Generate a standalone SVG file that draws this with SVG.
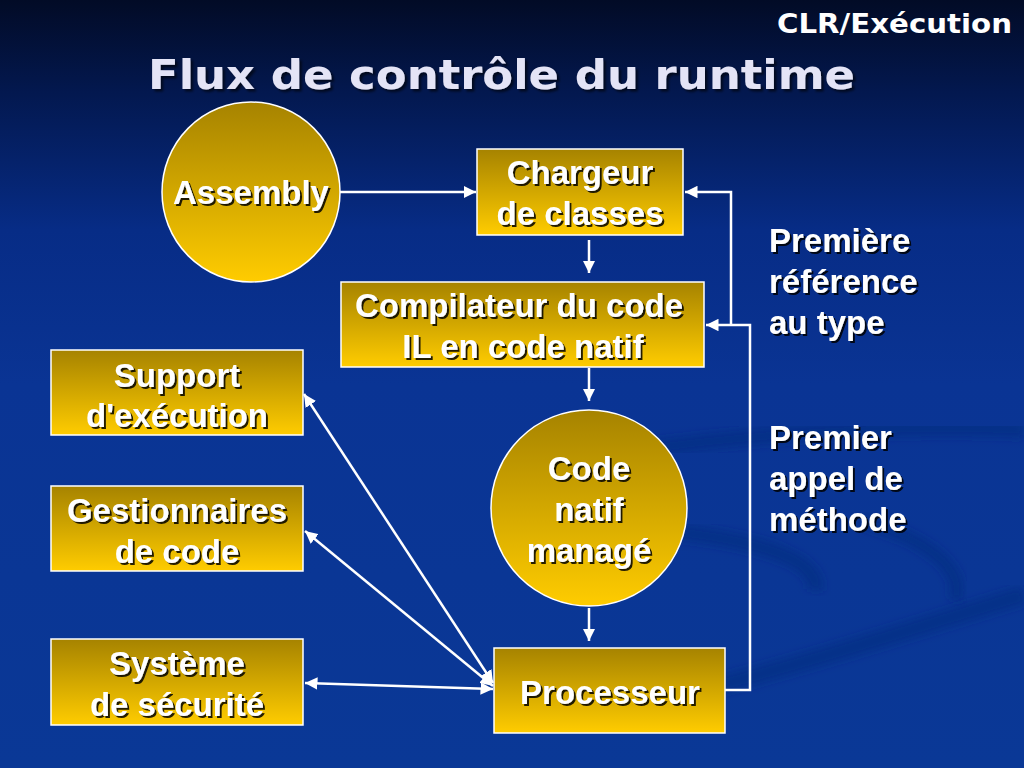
<svg xmlns="http://www.w3.org/2000/svg" width="1024" height="768" viewBox="0 0 1024 768">
<defs>
<linearGradient id="bg" x1="0" y1="0" x2="0" y2="1">
<stop offset="0" stop-color="#020b26"/>
<stop offset="0.12" stop-color="#03184f"/>
<stop offset="0.3" stop-color="#072c86"/>
<stop offset="0.5" stop-color="#0a3494"/>
<stop offset="1" stop-color="#0a3896"/>
</linearGradient>
<linearGradient id="gold" x1="0" y1="0" x2="0" y2="1">
<stop offset="0" stop-color="#a68300"/>
<stop offset="1" stop-color="#ffcc00"/>
</linearGradient>
<filter id="sh" x="-10%" y="-20%" width="130%" height="150%">
<feDropShadow dx="2" dy="2" stdDeviation="0.6" flood-color="#000" flood-opacity="0.85"/>
</filter>
<filter id="sh2" x="-10%" y="-20%" width="130%" height="150%">
<feDropShadow dx="2.5" dy="2.5" stdDeviation="1" flood-color="#000" flood-opacity="0.6"/>
</filter>
<filter id="blur"><feGaussianBlur stdDeviation="4"/></filter>
<marker id="ah" viewBox="0 0 10 10" refX="10" refY="5" markerWidth="5" markerHeight="5" orient="auto-start-reverse" markerUnits="strokeWidth">
<path d="M0,0 L10,5 L0,10 Z" fill="#fff"/>
</marker>
<style>
.node{fill:url(#gold);stroke:#fff;stroke-width:1.5}
.lbl{font-family:"Liberation Sans",Arial,sans-serif;font-weight:bold;font-size:33px;fill:#fff;text-anchor:middle;filter:url(#sh)}
.side{font-family:"Liberation Sans",Arial,sans-serif;font-weight:bold;font-size:33px;fill:#fff;filter:url(#sh)}
.con{fill:none;stroke:#fff;stroke-width:2.5}
.swoosh{fill:none;stroke:#062a7c;stroke-opacity:0.5;filter:url(#blur)}
</style>
</defs>
<rect width="1024" height="768" fill="url(#bg)"/>
<g id="background-swooshes">
<path class="swoosh" stroke-width="16" d="M640,450 C780,430 930,425 1024,430"/>
<path class="swoosh" stroke-width="16" d="M660,530 C760,540 820,560 815,590"/>
<path class="swoosh" stroke-width="14" d="M860,520 C930,540 965,570 955,600"/>
<path class="swoosh" stroke-width="18" d="M700,690 C820,660 940,620 1024,595"/>
</g>
<text x="1012" y="33" text-anchor="end" font-family="'DejaVu Sans',Verdana,sans-serif" font-weight="bold" font-size="27" fill="#fff" textLength="235" lengthAdjust="spacingAndGlyphs">CLR/Exécution</text>
<text x="148" y="89" font-family="'DejaVu Sans',Verdana,sans-serif" font-weight="bold" font-size="41" fill="#e4e4f6" filter="url(#sh2)" textLength="707" lengthAdjust="spacingAndGlyphs">Flux de contrôle du runtime</text>

<g id="connectors">
<line class="con" x1="340" y1="192" x2="476" y2="192" marker-end="url(#ah)"/>
<line class="con" x1="589" y1="240" x2="589" y2="273" marker-end="url(#ah)"/>
<line class="con" x1="589" y1="368" x2="589" y2="401" marker-end="url(#ah)"/>
<line class="con" x1="589" y1="608" x2="589" y2="641" marker-end="url(#ah)"/>
<polyline class="con" points="725,690 750,690 750,325 706,325" marker-end="url(#ah)"/>
<polyline class="con" points="731,325 731,192 685,192" marker-end="url(#ah)"/>
<line class="con" x1="304" y1="394" x2="493" y2="683" marker-start="url(#ah)" marker-end="url(#ah)"/>
<line class="con" x1="305" y1="531" x2="493" y2="686" marker-start="url(#ah)" marker-end="url(#ah)"/>
<line class="con" x1="305" y1="683" x2="493" y2="689" marker-start="url(#ah)" marker-end="url(#ah)"/>
</g>

<g id="assembly">
<ellipse class="node" cx="251" cy="192" rx="89" ry="90"/>
<text class="lbl" x="251" y="204">Assembly</text>
</g>
<g id="chargeur">
<rect class="node" x="477" y="149" width="206" height="86"/>
<text class="lbl" x="580" y="184">Chargeur</text>
<text class="lbl" x="580" y="225">de classes</text>
</g>
<g id="compilateur">
<rect class="node" x="341" y="282" width="363" height="85"/>
<text class="lbl" x="519" y="317">Compilateur du code</text>
<text class="lbl" x="523" y="358">IL en code natif</text>
</g>
<g id="code-natif">
<ellipse class="node" cx="589" cy="508" rx="98" ry="98"/>
<text class="lbl" x="589" y="480">Code</text>
<text class="lbl" x="589" y="521">natif</text>
<text class="lbl" x="589" y="562">managé</text>
</g>
<g id="processeur">
<rect class="node" x="494" y="648" width="231" height="85"/>
<text class="lbl" x="610" y="704">Processeur</text>
</g>
<g id="support">
<rect class="node" x="51" y="350" width="252" height="85"/>
<text class="lbl" x="177" y="387">Support</text>
<text class="lbl" x="177" y="427">d'exécution</text>
</g>
<g id="gestionnaires">
<rect class="node" x="51" y="486" width="252" height="85"/>
<text class="lbl" x="177" y="522">Gestionnaires</text>
<text class="lbl" x="177" y="563">de code</text>
</g>
<g id="securite">
<rect class="node" x="51" y="639" width="252" height="86"/>
<text class="lbl" x="177" y="675">Système</text>
<text class="lbl" x="177" y="716">de sécurité</text>
</g>
<g id="label-reference">
<text class="side" x="769" y="252">Première</text>
<text class="side" x="769" y="293">référence</text>
<text class="side" x="769" y="334">au type</text>
</g>
<g id="label-appel">
<text class="side" x="769" y="449">Premier</text>
<text class="side" x="769" y="490">appel de</text>
<text class="side" x="769" y="531">méthode</text>
</g>
</svg>
